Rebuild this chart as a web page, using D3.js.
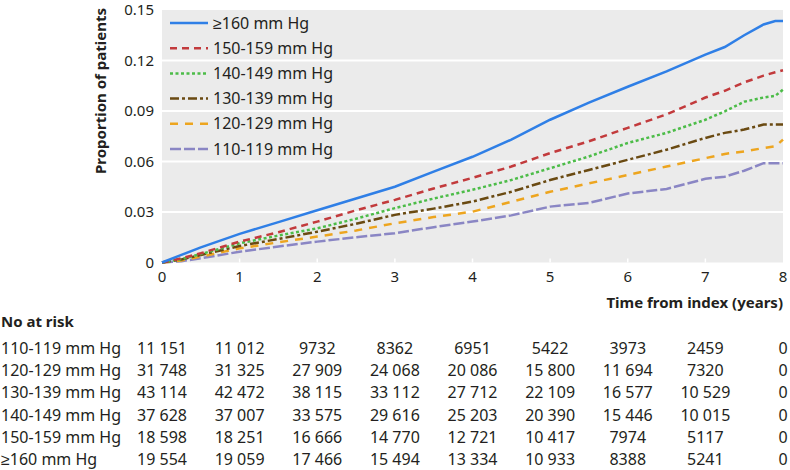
<!DOCTYPE html>
<html>
<head>
<meta charset="utf-8">
<script src="https://cdn.jsdelivr.net/npm/d3@7"></script>
<style>
  body { margin: 0; background: #fff; }
  svg text { font-family: "Noto Sans", sans-serif; fill: #231f20; }
</style>
</head>
<body>
<svg id="chart" width="790" height="470"></svg>
<script>
// time points (years) the curves were read at
const years = [0, 0.25, 0.5, 1, 1.5, 2, 2.5, 3, 3.5, 4, 4.5, 5, 5.5, 6, 6.5, 7, 7.25, 7.5, 7.75, 7.9, 8];

const bp160 = [0, 0.0045, 0.009, 0.017, 0.024, 0.031, 0.038, 0.045, 0.054, 0.0628, 0.073, 0.0848, 0.095, 0.1044, 0.1135, 0.1235, 0.128, 0.135, 0.1414, 0.1435, 0.1435];
const bp150 = [0, 0.0025, 0.0055, 0.0124, 0.018, 0.0243, 0.031, 0.0372, 0.044, 0.0503, 0.057, 0.065, 0.072, 0.080, 0.088, 0.098, 0.102, 0.107, 0.111, 0.113, 0.1142];
const bp140 = [0, 0.002, 0.005, 0.0114, 0.016, 0.0203, 0.026, 0.0323, 0.038, 0.0432, 0.049, 0.056, 0.063, 0.071, 0.077, 0.0848, 0.0898, 0.0955, 0.098, 0.099, 0.1027];
const bp130 = [0, 0.0018, 0.0045, 0.0098, 0.014, 0.0183, 0.023, 0.0283, 0.032, 0.0362, 0.042, 0.049, 0.055, 0.061, 0.067, 0.074, 0.077, 0.079, 0.082, 0.082, 0.082];
const bp120 = [0, 0.0012, 0.0035, 0.0084, 0.012, 0.0154, 0.019, 0.0233, 0.027, 0.0302, 0.036, 0.042, 0.047, 0.052, 0.057, 0.062, 0.0645, 0.066, 0.068, 0.069, 0.073];
const bp110 = [0, 0.0008, 0.0025, 0.0064, 0.0095, 0.0124, 0.015, 0.0174, 0.021, 0.0243, 0.028, 0.0332, 0.0354, 0.041, 0.0437, 0.0497, 0.051, 0.0545, 0.059, 0.059, 0.059];

const yTicks = [0, 0.03, 0.06, 0.09, 0.12, 0.15];
const xTicks = [0, 1, 2, 3, 4, 5, 6, 7, 8];

// legend order (top to bottom)
const groups = ["≥160 mm Hg", "150-159 mm Hg", "140-149 mm Hg", "130-139 mm Hg", "120-129 mm Hg", "110-119 mm Hg"];
const colors = ["#2f7fe6", "#c23a3c", "#4cbc48", "#6a4a12", "#eda51f", "#8a86c4"];
const dashes = [null, "7,5", "3,2.5", "9,3,3,3", "8,7", "11,3"];
const series = [bp160, bp150, bp140, bp130, bp120, bp110];

// number at risk table (table order)
const riskLabels = ["110-119 mm Hg", "120-129 mm Hg", "130-139 mm Hg", "140-149 mm Hg", "150-159 mm Hg", "≥160 mm Hg"];
const risk110 = [11151, 11012, 9732, 8362, 6951, 5422, 3973, 2459, 0];
const risk120 = [31748, 31325, 27909, 24068, 20086, 15800, 11694, 7320, 0];
const risk130 = [43114, 42472, 38115, 33112, 27712, 22109, 16577, 10529, 0];
const risk140 = [37628, 37007, 33575, 29616, 25203, 20390, 15446, 10015, 0];
const risk150 = [18598, 18251, 16666, 14770, 12721, 10417, 7974, 5117, 0];
const risk160 = [19554, 19059, 17466, 15494, 13334, 10933, 8388, 5241, 0];
const riskRows = [risk110, risk120, risk130, risk140, risk150, risk160];

const svg = d3.select("#chart");
const plotL = 162, plotR = 783, plotT = 10, plotB = 262.5;

const x = d3.scaleLinear().domain([0, 8]).range([plotL, plotR]);
const y = d3.scaleLinear().domain([0, 0.15]).range([plotB, plotT]);

// plot background
svg.append("rect")
  .attr("x", plotL).attr("y", plotT)
  .attr("width", plotR - plotL).attr("height", plotB - plotT)
  .attr("fill", "#ebebeb");

// gridlines
svg.selectAll(".grid")
  .data(yTicks.filter(d => d > 0 && d < 0.15))
  .enter().append("line")
  .attr("x1", plotL).attr("x2", plotR)
  .attr("y1", d => y(d)).attr("y2", d => y(d))
  .style("stroke", "#fff").style("stroke-width", 2);

// small white ticks at the bottom
svg.selectAll(".xtick")
  .data(xTicks.slice(1, -1))
  .enter().append("line")
  .attr("x1", d => x(d)).attr("x2", d => x(d))
  .attr("y1", plotB).attr("y2", plotB - 4)
  .style("stroke", "#fff").style("stroke-width", 1.5);

// y tick labels
svg.selectAll(".ylab")
  .data(yTicks)
  .enter().append("text")
  .attr("x", plotL - 8).attr("y", d => y(d))
  .attr("dy", "0.35em")
  .attr("text-anchor", "end")
  .style("font-size", "15px")
  .text(d => d === 0 ? "0" : d3.format(".2f")(d));

// x tick labels
svg.selectAll(".xlab")
  .data(xTicks)
  .enter().append("text")
  .attr("x", d => x(d)).attr("y", 277)
  .attr("dy", "0.35em")
  .attr("text-anchor", "middle")
  .style("font-size", "15px")
  .text(d => d);

// axis titles
svg.append("text")
  .attr("transform", "translate(106,91) rotate(-90)")
  .attr("text-anchor", "middle")
  .style("font-size", "15px").style("font-weight", "bold")
  .text("Proportion of patients");

svg.append("text")
  .attr("x", plotR).attr("y", 303)
  .attr("dy", "0.35em")
  .attr("text-anchor", "end")
  .style("font-size", "15px").style("font-weight", "bold")
  .text("Time from index (years)");

// curves
const line = d3.line()
  .x((d, i) => x(years[i]))
  .y(d => y(d));

// draw lowest group first so the top curves sit above
for (let k = series.length - 1; k >= 0; k--) {
  svg.append("path")
    .datum(series[k])
    .attr("d", line)
    .attr("fill", "none")
    .style("stroke", colors[k])
    .style("stroke-width", 2.5)
    .style("stroke-dasharray", dashes[k]);
}

// legend
const legend = svg.append("g");
groups.forEach((g, i) => {
  const ly = 23 + i * 25.2;
  legend.append("line")
    .attr("x1", 170).attr("x2", 208)
    .attr("y1", ly).attr("y2", ly)
    .style("stroke", colors[i])
    .style("stroke-width", 2.5)
    .style("stroke-dasharray", dashes[i]);
  legend.append("text")
    .attr("x", 213).attr("y", ly)
    .attr("dy", "0.35em")
    .style("font-size", "16px")
    .text(g);
});

// number at risk
const fmtRisk = v => v >= 10000 ? d3.format(",")(v).replace(/,/g, " ") : String(v);

svg.append("text")
  .attr("x", 1).attr("y", 322)
  .attr("dy", "0.35em")
  .style("font-size", "15px").style("font-weight", "bold")
  .text("No at risk");

riskRows.forEach((row, r) => {
  const ry = 348 + r * 22.3;
  svg.append("text")
    .attr("x", 1).attr("y", ry)
    .attr("dy", "0.35em")
    .style("font-size", "16px")
    .text(riskLabels[r]);
  svg.selectAll(null)
    .data(row)
    .enter().append("text")
    .attr("x", (d, i) => x(xTicks[i]))
    .attr("y", ry)
    .attr("dy", "0.35em")
    .attr("text-anchor", "middle")
    .style("font-size", "16px")
    .text(fmtRisk);
});
</script>
</body>
</html>
